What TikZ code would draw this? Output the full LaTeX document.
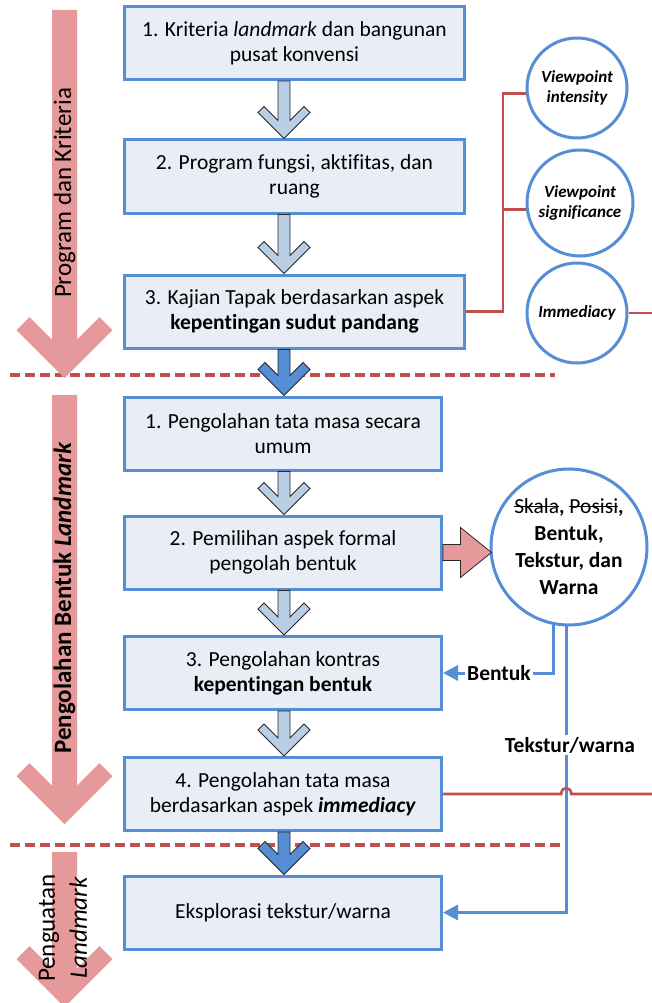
\documentclass[tikz,border=0pt]{standalone}
\usepackage{fontspec}
\setmainfont{Carlito}[Ligatures=NoCommon]
\newcommand\strikeout[1]{\setbox0\hbox{#1}\rlap{\raisebox{0.3em}{\rule{\wd0}{1.3pt}}}\box0}
\usetikzlibrary{calc,arrows.meta}
\definecolor{boxfill}{RGB}{233,237,245}
\definecolor{boxline}{RGB}{85,142,213}
\definecolor{lightarr}{RGB}{185,205,229}
\definecolor{pinkarr}{RGB}{230,153,154}
\definecolor{redln}{RGB}{192,80,77}
\definecolor{arrout}{RGB}{40,40,40}
% chevron block arrow: #1 style, #2 start, #3 tip, #4 shaft half width, #5 head half width, #6 arm thickness
\newcommand\chevarrow[6]{%
  \path[#1] let \p1=(#2), \p2=(#3) in
    (\x2-#4,\y1) -- (\x2+#4,\y1) -- (\x2+#4,\y2+2*#6+#4) -- (\x2+#5-#6,\y2+#5+#6)
    -- (\x2+#5,\y2+#5) -- (\x2,\y2) -- (\x2-#5,\y2+#5) -- (\x2-#5+#6,\y2+#5+#6)
    -- (\x2-#4,\y2+2*#6+#4) -- cycle;}
\begin{document}
\begin{tikzpicture}[x=1pt,y=-1pt,
  box/.style={draw=boxline, line width=3pt, fill=boxfill, minimum height=73pt,
    align=center, font=\fontsize{21.5}{25}\selectfont, inner sep=2pt},
  ubox/.style={box, minimum width=340pt},
  lbox/.style={box, minimum width=317pt},
  circ/.style={circle, draw=boxline, line width=3pt, fill=white, align=center, inner sep=0pt},
  smallcirc/.style={circ, font=\fontsize{17}{20.5}\selectfont\bfseries\itshape},
  lightarrow/.style={fill=lightarr, draw=arrout, line width=0.8pt, line join=miter},
  darkarrow/.style={fill=boxline, draw=arrout, line width=0.8pt, line join=miter},
  bigarrow/.style={fill=pinkarr},
  hpinkarrow/.style={fill=pinkarr, draw=arrout, line width=0.8pt, line join=miter},
  redline/.style={draw=redln, line width=2.6pt},
  blueline/.style={draw=boxline, line width=3pt},
  dashline/.style={draw=redln, line width=4pt, dash pattern=on 10pt off 5pt},
  sidelabel/.style={rotate=90, font=\fontsize{25}{32}\selectfont, align=center},
  conlabel/.style={font=\fontsize{21.5}{25}\selectfont\bfseries, inner sep=2pt},
  arrowtip/.style={-{Triangle[length=15pt,width=15pt]}}
]
\useasboundingbox (0,0) rectangle (652,1003);

% dashed separators
\draw[dashline] (10,375) -- (555,375);
\draw[dashline] (10,845) -- (564,845);

% big side arrows
\coordinate (a1s) at (64.5,10);   \coordinate (a1t) at (64.5,378);
\coordinate (a2s) at (64.5,395);  \coordinate (a2t) at (64.5,824);
\coordinate (a3s) at (64.5,852);  \coordinate (a3t) at (64.5,1007);
\chevarrow{bigarrow}{a1s}{a1t}{12.5pt}{48pt}{13pt}
\chevarrow{bigarrow}{a2s}{a2t}{12.5pt}{48pt}{13pt}
\chevarrow{bigarrow}{a3s}{a3t}{12.5pt}{48pt}{13pt}
\node[sidelabel] (lab1) at (64.5,193) {Program dan Kriteria};
\node[sidelabel] (lab2) at (64.5,598) {\textbf{Pengolahan Bentuk \textit{Landmark}}};
\node[sidelabel] (lab3) at (63,928) {Penguatan\\\textit{Landmark}};

% boxes
\node[ubox] (U1) at (294.5,43) {1. Kriteria \textit{landmark} dan bangunan\\pusat konvensi};
\node[ubox] (U2) at (294.5,176.5) {2. Program fungsi, aktifitas, dan\\ruang};
\node[ubox] (U3) at (294.5,311.5) {3. Kajian Tapak berdasarkan aspek\\\textbf{kepentingan sudut pandang}};
\node[lbox] (L1) at (283,433.5) {1. Pengolahan tata masa secara\\umum};
\node[lbox] (L2) at (283,552.5) {2. Pemilihan aspek formal\\pengolah bentuk};
\node[lbox] (L3) at (283,673) {3. Pengolahan kontras\\\textbf{kepentingan bentuk}};
\node[lbox] (L4) at (283,794) {4. Pengolahan tata masa\\berdasarkan aspek \textbf{\textit{immediacy}}};
\node[lbox] (L5) at (283,912.5) {Eksplorasi tekstur/warna};

% block arrows between boxes
\coordinate (ax) at (284,0);
\chevarrow{lightarrow}{U1.south -| ax}{U2.north -| ax}{6pt}{26pt}{6pt}
\chevarrow{lightarrow}{U2.south -| ax}{U3.north -| ax}{6pt}{26pt}{6pt}
\chevarrow{darkarrow}{U3.south -| ax}{L1.north -| ax}{6pt}{26pt}{7pt}
\chevarrow{lightarrow}{L1.south -| ax}{L2.north -| ax}{6pt}{26pt}{6pt}
\chevarrow{lightarrow}{L2.south -| ax}{L3.north -| ax}{6pt}{26pt}{6pt}
\chevarrow{lightarrow}{L3.south -| ax}{L4.north -| ax}{6pt}{26pt}{6pt}
\chevarrow{darkarrow}{L4.south -| ax}{L5.north -| ax}{6pt}{26pt}{7pt}

% circles
\node[smallcirc, minimum size=100pt] (c1) at (577,88) {Viewpoint\\intensity};
\node[smallcirc, minimum size=106pt] (c2) at (580,203) {Viewpoint\\significance};
\node[smallcirc, minimum size=100pt] (c3) at (577,313) {Immediacy};
\node[circ, minimum size=156pt, font=\fontsize{21.5}{27}\selectfont] (B) at (569,547)
  {\strikeout{Skala}\textbf{,} \strikeout{Posisi}\textbf{,}\\\textbf{Bentuk,}\\\textbf{Tekstur, dan}\\\textbf{Warna}};

% red connectors
\coordinate (rx) at (503,0);
\coordinate (edgeR) at (652,0);
\draw[redline] (U3.east) -| (rx |- c2.187) -- (c2.187);
\draw[redline] (rx |- c2.187) |- (c1.186);
\draw[redline] (c3.east) -- (edgeR |- c3.east);

% pink arrow to big circle
\path[hpinkarrow] let \p1=(L2.east), \p2=(B.west) in
  (\x1,\y1+8pt) -- (\x2-29pt,\y1+8pt) -- (\x2-29pt,\y1+25pt) -- (\x2+2pt,\y1)
  -- (\x2-29pt,\y1-25pt) -- (\x2-29pt,\y1-8pt) -- (\x1,\y1-8pt) -- cycle;

% blue connectors
\node[conlabel] (bent) at (499,673) {Bentuk};
\draw[blueline] (B.259) |- (bent.east);
\draw[blueline, arrowtip] (bent.west) -- (L3.east |- bent.west);
\coordinate (vx) at (B.268);
\draw[blueline, arrowtip] (vx) |- (L5.east);
\node[conlabel, fill=white] (tw) at (570,745) {Tekstur/warna};

% red line from box 4 with hop
\draw[redline] (L4.east) -- ($(vx |- L4.east)+(-5,0)$)
  .. controls +(0,-8) and +(0,-8) .. ($(vx |- L4.east)+(5,0)$) -- (edgeR |- L4.east);
\end{tikzpicture}
\end{document}
